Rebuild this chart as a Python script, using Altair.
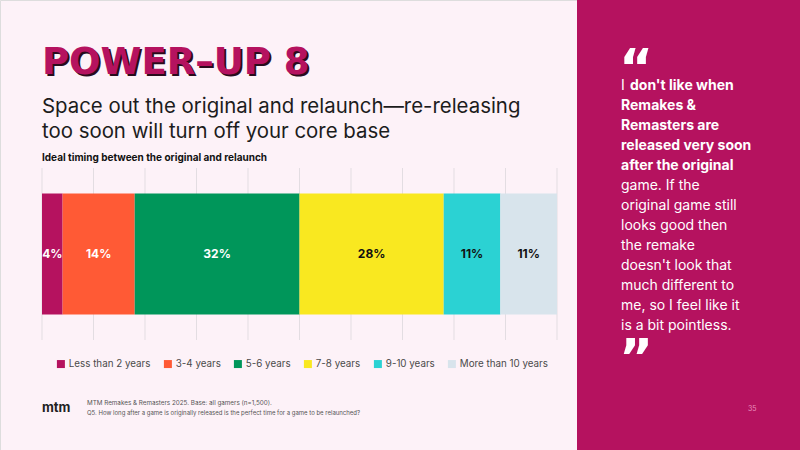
import altair as alt
import pandas as pd

# ---- data ----
categories = ["Less than 2 years", "3-4 years", "5-6 years", "7-8 years", "9-10 years", "More than 10 years"]
shares = [4, 14, 32, 28, 11, 11]
bar_colors = ["#b5125f", "#ff5a35", "#00965a", "#f9e820", "#2bd2d3", "#d8e4ec"]
label_colors = ["#ffffff", "#ffffff", "#ffffff", "#111111", "#111111", "#111111"]
grid_ticks = list(range(0, 101, 10))

quote_bold = ["don't like when", "Remakes &", "Remasters are", "released very soon", "after the original"]
quote_regular = ["game. If the", "original game still", "looks good then", "the remake",
                 "doesn't look that", "much different to", "me, so I feel like it", "is a bit pointless."]

MAGENTA = "#b5125f"
BG = "#fdf2f8"
FONT = "Inter"

W, H = 800, 450

bars_df = pd.DataFrame({
    "category": categories,
    "share": shares,
    "idx": list(range(len(categories))),
    "labelColor": label_colors,
    "row": ["all"] * len(categories),
})

x_scale = alt.Scale(domain=[0, 100], range=[42, 557], nice=False, zero=False)
y_scale = alt.Scale(range=[168, 340], paddingInner=0, paddingOuter=0.21)


def one_text(text, x, y, size, color, weight="normal", font=FONT, align="left", baseline="alphabetic"):
    return alt.Chart(pd.DataFrame({"t": [text]})).mark_text(
        font=font, fontSize=size, fontWeight=weight, color=color,
        align=align, baseline=baseline,
    ).encode(text="t:N", x=alt.value(x), y=alt.value(y))


# right-hand quote panel
panel = alt.Chart(pd.DataFrame({"p": [1]})).mark_rect(color=MAGENTA).encode(
    x=alt.value(577), x2=alt.value(W), y=alt.value(0), y2=alt.value(H)
)

# vertical gridlines at every 10%
grid = alt.Chart(pd.DataFrame({"tick": grid_ticks})).mark_rule(
    color="#e3dde2", strokeWidth=1
).encode(
    x=alt.X("tick:Q", scale=x_scale, axis=None),
    y=alt.value(168), y2=alt.value(340),
)

bars = alt.Chart(bars_df).mark_bar().encode(
    x=alt.X("share:Q", stack="zero", scale=x_scale, axis=None),
    y=alt.Y("row:N", scale=y_scale, axis=None),
    color=alt.Color(
        "category:N",
        scale=alt.Scale(domain=categories, range=bar_colors),
        sort=categories,
        legend=alt.Legend(
            title=None, orient="none", legendX=56, legendY=359,
            direction="horizontal", columns=6, symbolType="square",
            symbolSize=64, symbolStrokeWidth=0, labelFont=FONT,
            labelFontSize=9.8, labelColor="#4a4a4a", columnPadding=12,
            labelOffset=3,
        ),
    ),
    order=alt.Order("idx:Q"),
)

labels = alt.Chart(bars_df).transform_stack(
    stack="share", groupby=["row"], as_=["x0", "x1"], sort=[alt.SortField("idx")]
).transform_calculate(
    mid="(datum.x0 + datum.x1) / 2",
    txt="datum.share + '%'",
).mark_text(font=FONT, fontSize=12, fontWeight="bold").encode(
    x=alt.X("mid:Q", scale=x_scale, axis=None),
    y=alt.Y("row:N", scale=y_scale, axis=None),
    text="txt:N",
    color=alt.Color("labelColor:N", scale=None),
)

# heading block
title_shadow = one_text("POWER–UP 8", 44, 76, 37, "#2a0b1c", weight="bold", font="DejaVu Sans")
title = one_text("POWER–UP 8", 42, 74, 37, MAGENTA, weight="bold", font="DejaVu Sans")
sub1 = one_text("Space out the original and relaunch—re-releasing", 42, 113, 20.4, "#1c1c1c")
sub2 = one_text("too soon will turn off your core base", 42, 138, 20.4, "#1c1c1c")
chart_label = one_text("Ideal timing between the original and relaunch", 42, 161, 10, "#111111", weight="bold")

# footer
logo = one_text("mtm", 42, 412, 13, "#222222", weight="bold")
src1 = one_text("MTM Remakes & Remasters 2025. Base: all gamers (n=1,500).", 87, 405, 6.3, "#555555")
src2 = one_text("Q5. How long after a game is originally released is the perfect time for a game to be relaunched?",
                87, 415, 6, "#555555")
page_no = one_text("35", 748, 411, 7, "#e98cbd")

# quote marks
open_q = one_text("“", 619, 86, 52, "#ffffff", weight="bold", font="DejaVu Sans")
close_q = one_text("”", 619, 376, 52, "#ffffff", weight="bold", font="DejaVu Sans")

q_rows = []
for i, line in enumerate(quote_bold):
    q_rows.append({"line": line, "y": 90 + 20 * i, "w": "bold", "x": 630 if i == 0 else 621})
for j, line in enumerate(quote_regular):
    q_rows.append({"line": line, "y": 90 + 20 * (len(quote_bold) + j), "w": "normal", "x": 621})
q_df = pd.DataFrame(q_rows)

q_bold = alt.Chart(q_df[q_df.w == "bold"]).mark_text(
    font=FONT, fontSize=14, fontWeight="bold", color="#ffffff", align="left", baseline="alphabetic"
).encode(text="line:N", x=alt.X("x:Q", scale=None), y=alt.Y("y:Q", scale=None))
q_reg = alt.Chart(q_df[q_df.w == "normal"]).mark_text(
    font=FONT, fontSize=14, color="#ffffff", align="left", baseline="alphabetic"
).encode(text="line:N", x=alt.X("x:Q", scale=None), y=alt.Y("y:Q", scale=None))
q_first = one_text("I", 621, 90, 14, "#ffffff")

chart = alt.layer(
    panel, grid, bars, labels,
    title_shadow, title, sub1, sub2, chart_label,
    logo, src1, src2, page_no,
    open_q, close_q, q_first, q_bold, q_reg,
).resolve_scale(color="independent").properties(
    width=W, height=H, autosize=alt.AutoSizeParams(type="none"), padding=0,
).configure_view(stroke=None).configure(background=BG)

chart.save("out.html", embed_options={"renderer": "svg", "actions": False})
